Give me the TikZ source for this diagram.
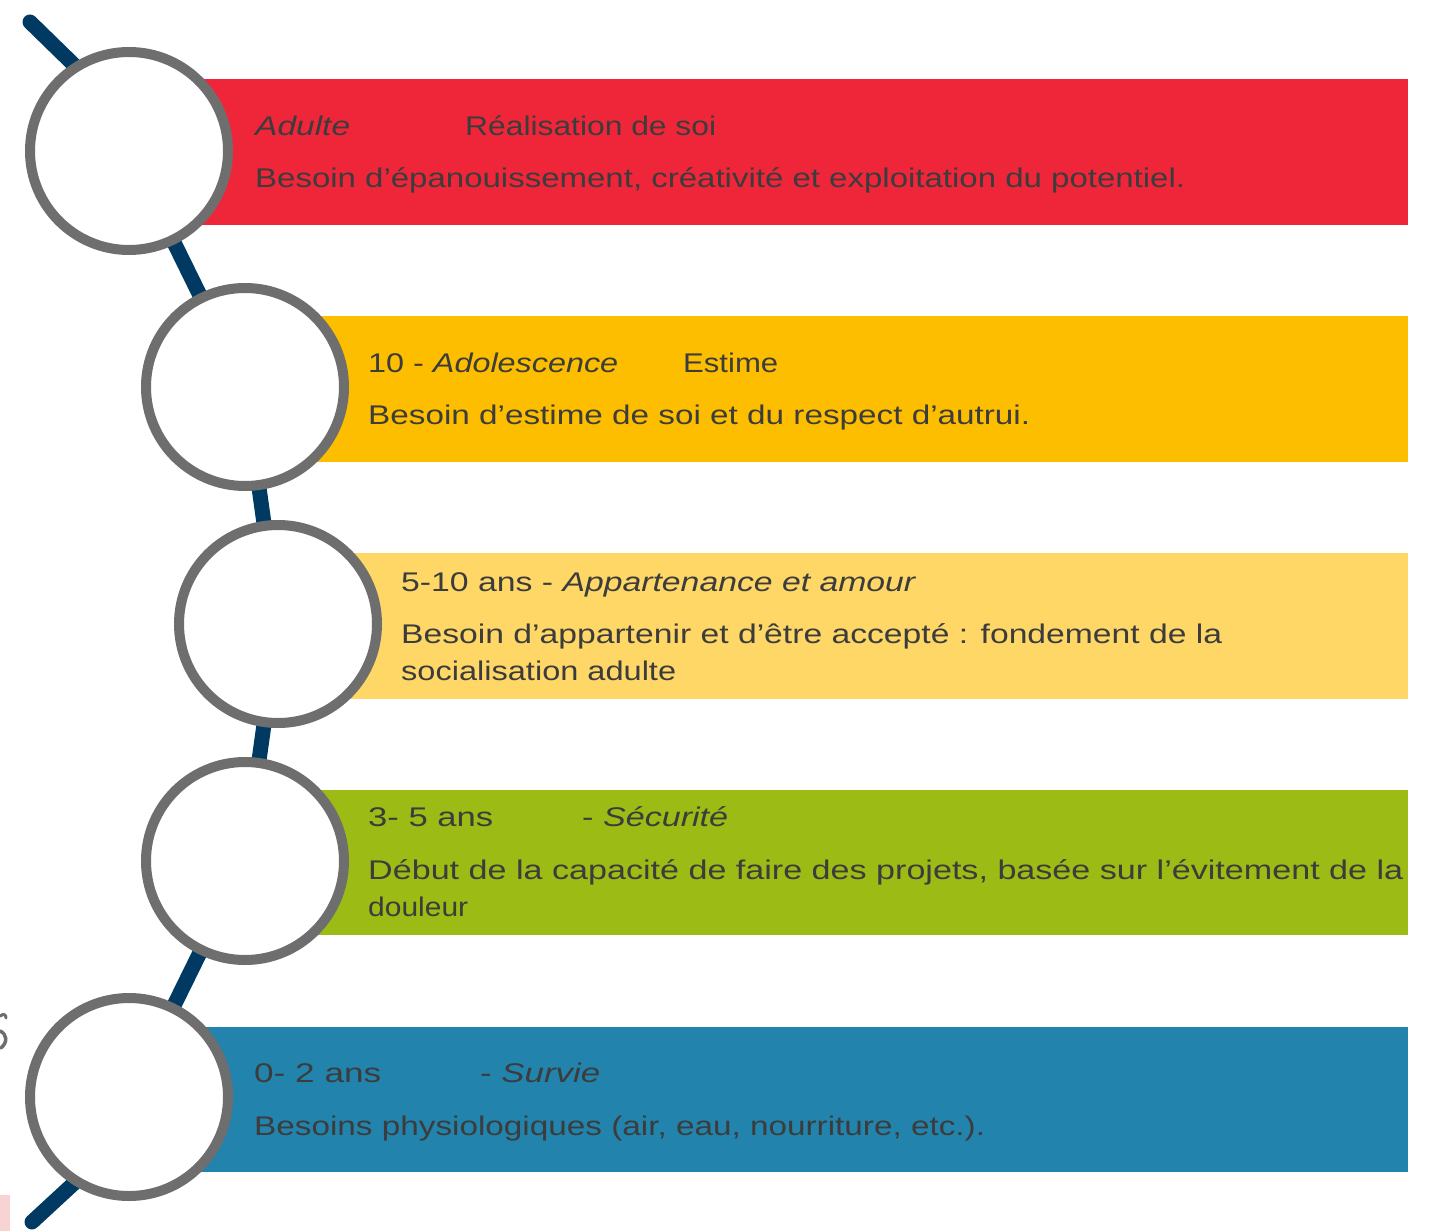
\documentclass[tikz,border=0pt]{standalone}
\usepackage{fontspec}
\setmainfont{Liberation Sans}
\usepackage{graphicx}
\definecolor{bandred}{HTML}{EF263A}
\definecolor{bandorange}{HTML}{FDBE00}
\definecolor{bandlight}{HTML}{FED766}
\definecolor{bandgreen}{HTML}{9CBB14}
\definecolor{bandblue}{HTML}{2283AD}
\definecolor{ringgray}{HTML}{6E6E6E}
\definecolor{navy}{HTML}{003A63}
\definecolor{txtgray}{HTML}{3C3C3C}
\definecolor{pinkish}{HTML}{F8D3D3}
\newcommand{\fw}[2]{\resizebox{#1pt}{\height}{#2}}
\tikzset{
  ring/.style={circle, draw=ringgray, line width=10pt, fill=white, minimum size=198pt, inner sep=0pt},
  spine/.style={draw=navy, line width=15pt, line cap=round, line join=round},
  txt/.style={anchor=base west, inner sep=0pt, text=txtgray, font=\fontsize{27}{30}\selectfont},
}
\begin{document}
\begin{tikzpicture}[x=1pt,y=-1pt]
\useasboundingbox (0,0) rectangle (1429,1231);
\clip (0,0) rectangle (1429,1231);
\fill[white] (0,0) rectangle (1429,1231);

% circle positions (coordinates first for the spine)
\coordinate (p1) at (129,151);
\coordinate (p2) at (245,387);
\coordinate (p3) at (278,624);
\coordinate (p4) at (245,861);
\coordinate (p5) at (129,1097);
\coordinate (t0) at (30,22);
\coordinate (t1) at (110,100);
\coordinate (b1) at (110,1150);
\coordinate (b0) at (32,1222);

% spine
\draw[spine] (t0) -- (t1) -- (p1) -- (p2) -- (p3) -- (p4) -- (p5) -- (b1) -- (b0);

% bands
\fill[bandred]    (129,79)   rectangle (1408,225);
\fill[bandorange] (245,316)  rectangle (1408,462);
\fill[bandlight]  (278,553)  rectangle (1408,699);
\fill[bandgreen]  (245,790)  rectangle (1408,935);
\fill[bandblue]   (129,1027) rectangle (1408,1172);

% rings
\node[ring] (c1) at (p1) {};
\node[ring] (c2) at (p2) {};
\node[ring] (c3) at (p3) {};
\node[ring] (c4) at (p4) {};
\node[ring] (c5) at (p5) {};

% texts: red
\node[txt] (r1a) at (255,135) {\fw{95}{\itshape Adulte}};
\node[txt] (r1b) at (465,135) {\fw{251}{Réalisation de soi}};
\node[txt] (r2)  at (255,187) {\fw{930}{Besoin d’épanouissement, créativité et exploitation du potentiel.}};

% orange
\node[txt] (o1a) at (368,372) {\fw{250}{10 - \itshape Adolescence}};
\node[txt] (o1b) at (683,372) {\fw{95}{Estime}};
\node[txt] (o2)  at (368,424) {\fw{662}{Besoin d’estime de soi et du respect d’autrui.}};

% light yellow
\node[txt] (l1) at (401,591) {\fw{514}{5-10 ans - \itshape Appartenance et amour}};
\node[txt] (l2) at (401,643) {\fw{821}{Besoin d’appartenir et d’être accepté : fondement de la}};
\node[txt] (l3) at (401,680) {\fw{275}{socialisation adulte}};

% green
\node[txt] (g1a) at (368,826) {\fw{125}{3- 5 ans}};
\node[txt] (g1b) at (582,826) {\fw{146}{- \itshape Sécurité}};
\node[txt] (g2)  at (368,879) {\fw{1035}{Début de la capacité de faire des projets, basée sur l’évitement de la}};
\node[txt] (g3)  at (368,916) {\fw{100}{douleur}};

% blue
\node[txt] (u1a) at (254,1082) {\fw{127}{0- 2 ans}};
\node[txt] (u1b) at (480,1082) {\fw{120}{- \itshape Survie}};
\node[txt] (u2)  at (254,1135) {\fw{731}{Besoins physiologiques (air, eau, nourriture, etc.).}};

% stray edge fragments (cut-off glyph and pink patch at the left edge)
\draw[ringgray, line width=3pt, line cap=round]
  (0,1016) .. controls (4,1013) and (6,1015) .. (6,1018);
\draw[ringgray, line width=3.5pt, line cap=round]
  (0,1031) .. controls (7,1034) and (8,1042) .. (1,1048);
\fill[pinkish] (0,1195) rectangle (10,1231);
\end{tikzpicture}
\end{document}
